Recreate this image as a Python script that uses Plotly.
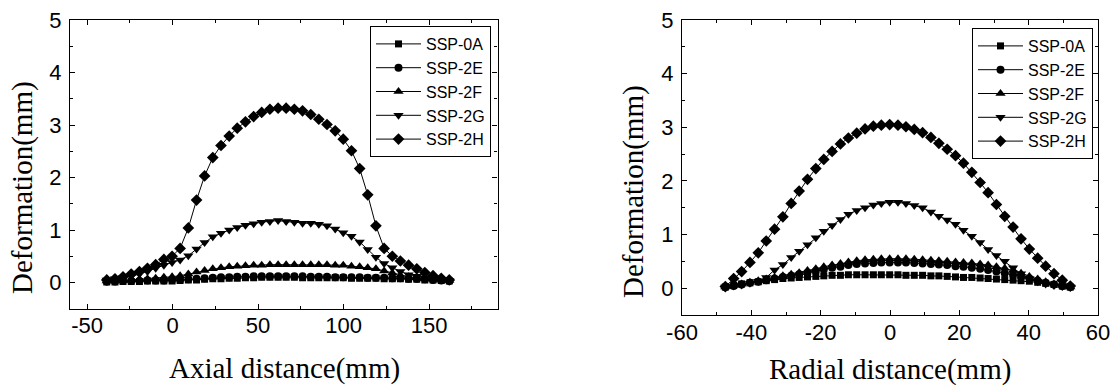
import plotly.graph_objects as go

# ---------------- data ----------------
series_names = ["SSP-0A", "SSP-2E", "SSP-2F", "SSP-2G", "SSP-2H"]
series_symbols = ["square", "circle", "triangle-up", "triangle-down", "diamond"]
series_sizes = [7, 8, 9, 9, 9]

# tick labels
axial_tickvals = [-50, 0, 50, 100, 150]
axial_ticktext = ["-50", "0", "50", "100", "150"]
radial_tickvals = [-60, -40, -20, 0, 20, 40, 60]
radial_ticktext = ["-60", "-40", "-20", "0", "20", "40", "60"]
defo_tickvals = [0, 1, 2, 3, 4, 5]
defo_ticktext = ["0", "1", "2", "3", "4", "5"]

# Axial (left panel)
x_axial = [-38.5, -33.7, -29.0, -24.2, -19.4, -14.7, -9.9, -5.1, -0.3, 4.4,
           9.2, 14.0, 18.7, 23.5, 28.3, 33.1, 37.8, 42.6, 47.4, 52.1,
           56.9, 61.7, 66.4, 71.2, 76.0, 80.8, 85.5, 90.3, 95.1, 99.8,
           104.6, 109.4, 114.1, 118.9, 123.7, 128.5, 133.2, 138.0, 142.8, 147.5,
           152.3, 157.1, 161.8]
axial_0a = [0.01, 0.01, 0.02, 0.02, 0.02, 0.03, 0.03, 0.03, 0.03, 0.04,
            0.05, 0.05, 0.06, 0.07, 0.07, 0.08, 0.08, 0.09, 0.09, 0.10,
            0.10, 0.10, 0.10, 0.10, 0.09, 0.09, 0.09, 0.09, 0.09, 0.09,
            0.08, 0.08, 0.08, 0.08, 0.07, 0.07, 0.07, 0.06, 0.06, 0.05,
            0.05, 0.04, 0.03]
axial_2e = [0.02, 0.02, 0.03, 0.03, 0.03, 0.04, 0.04, 0.04, 0.05, 0.05,
            0.06, 0.07, 0.08, 0.09, 0.10, 0.10, 0.11, 0.11, 0.12, 0.12,
            0.12, 0.12, 0.12, 0.12, 0.12, 0.11, 0.11, 0.11, 0.10, 0.10,
            0.10, 0.10, 0.09, 0.09, 0.09, 0.08, 0.08, 0.07, 0.07, 0.06,
            0.05, 0.04, 0.03]
axial_2f = [0.03, 0.03, 0.04, 0.05, 0.06, 0.07, 0.08, 0.10, 0.11, 0.13,
            0.16, 0.20, 0.23, 0.26, 0.28, 0.30, 0.31, 0.32, 0.33, 0.33,
            0.34, 0.34, 0.34, 0.34, 0.34, 0.34, 0.34, 0.34, 0.33, 0.33,
            0.31, 0.30, 0.28, 0.26, 0.22, 0.18, 0.14, 0.11, 0.09, 0.07,
            0.06, 0.05, 0.04]
axial_2g = [0.05, 0.07, 0.09, 0.12, 0.16, 0.21, 0.27, 0.33, 0.38, 0.43,
            0.51, 0.64, 0.76, 0.87, 0.94, 1.00, 1.05, 1.09, 1.12, 1.15,
            1.16, 1.18, 1.16, 1.15, 1.13, 1.13, 1.11, 1.08, 1.02, 0.95,
            0.88, 0.77, 0.63, 0.48, 0.36, 0.28, 0.21, 0.15, 0.12, 0.09,
            0.07, 0.06, 0.04]
axial_2h = [0.05, 0.07, 0.11, 0.16, 0.21, 0.27, 0.34, 0.44, 0.50, 0.65,
            1.04, 1.57, 2.03, 2.38, 2.61, 2.79, 2.94, 3.06, 3.16, 3.24,
            3.30, 3.32, 3.32, 3.30, 3.27, 3.20, 3.11, 3.01, 2.89, 2.73,
            2.51, 2.17, 1.67, 1.08, 0.65, 0.50, 0.41, 0.33, 0.26, 0.19,
            0.13, 0.08, 0.05]

# Radial (right panel)
x_radial = [-47.5, -45.1, -42.8, -40.4, -38.0, -35.7, -33.3, -30.9, -28.5, -26.2,
            -23.8, -21.4, -19.1, -16.7, -14.3, -12.0, -9.6, -7.2, -4.8, -2.5,
            -0.1, 2.3, 4.6, 7.0, 9.4, 11.8, 14.1, 16.5, 18.9, 21.2,
            23.6, 26.0, 28.3, 30.7, 33.1, 35.5, 37.8, 40.2, 42.6, 44.9,
            47.3, 49.7, 52.0]
radial_0a = [0.02, 0.05, 0.08, 0.10, 0.12, 0.14, 0.16, 0.18, 0.19, 0.20,
             0.21, 0.22, 0.23, 0.24, 0.24, 0.25, 0.25, 0.25, 0.25, 0.25,
             0.25, 0.25, 0.24, 0.24, 0.24, 0.23, 0.23, 0.22, 0.21, 0.20,
             0.20, 0.19, 0.18, 0.17, 0.16, 0.15, 0.14, 0.13, 0.11, 0.09,
             0.07, 0.04, 0.02]
radial_2e = [0.02, 0.04, 0.07, 0.10, 0.12, 0.15, 0.18, 0.21, 0.23, 0.26,
             0.29, 0.32, 0.35, 0.38, 0.40, 0.43, 0.45, 0.46, 0.47, 0.48,
             0.48, 0.48, 0.48, 0.47, 0.46, 0.45, 0.44, 0.43, 0.41, 0.40,
             0.38, 0.36, 0.34, 0.31, 0.28, 0.25, 0.21, 0.18, 0.14, 0.10,
             0.07, 0.04, 0.02]
radial_2f = [0.02, 0.05, 0.08, 0.11, 0.14, 0.17, 0.20, 0.23, 0.26, 0.29,
             0.33, 0.36, 0.40, 0.43, 0.46, 0.49, 0.51, 0.53, 0.54, 0.55,
             0.55, 0.55, 0.55, 0.54, 0.53, 0.52, 0.51, 0.50, 0.49, 0.48,
             0.47, 0.45, 0.43, 0.40, 0.37, 0.33, 0.28, 0.22, 0.17, 0.12,
             0.08, 0.05, 0.02]
radial_2g = [0.02, 0.04, 0.06, 0.09, 0.13, 0.20, 0.34, 0.44, 0.57, 0.69,
             0.81, 0.94, 1.06, 1.17, 1.28, 1.38, 1.45, 1.50, 1.55, 1.58,
             1.60, 1.60, 1.58, 1.54, 1.50, 1.42, 1.34, 1.27, 1.19, 1.08,
             0.97, 0.85, 0.72, 0.61, 0.50, 0.38, 0.27, 0.18, 0.12, 0.08,
             0.05, 0.03, 0.02]
radial_2h = [0.03, 0.18, 0.31, 0.48, 0.66, 0.88, 1.10, 1.33, 1.58, 1.81,
             2.03, 2.23, 2.40, 2.55, 2.69, 2.80, 2.89, 2.97, 3.02, 3.04,
             3.05, 3.04, 3.01, 2.96, 2.90, 2.81, 2.70, 2.59, 2.47, 2.33,
             2.16, 1.97, 1.78, 1.56, 1.34, 1.14, 0.92, 0.73, 0.56, 0.41,
             0.27, 0.15, 0.04]

axial_series = [axial_0a, axial_2e, axial_2f, axial_2g, axial_2h]
radial_series = [radial_0a, radial_2e, radial_2f, radial_2g, radial_2h]

# ---------------- layout helpers ----------------
W, H = 1114, 385
def fx(p):
    return p / W
def fy(p):
    return 1 - p / H

SANS = "Liberation Sans, Arial, sans-serif"
SERIF = "Liberation Serif, Times New Roman, serif"

fig = go.Figure()

for name, sym, sz, ys in zip(series_names, series_symbols, series_sizes, axial_series):
    fig.add_trace(go.Scatter(
        x=x_axial, y=ys, mode="lines+markers", name=name,
        line=dict(color="black", width=1),
        marker=dict(symbol=sym, size=sz, color="black"),
        xaxis="x", yaxis="y", legend="legend"))

for name, sym, sz, ys in zip(series_names, series_symbols, series_sizes, radial_series):
    fig.add_trace(go.Scatter(
        x=x_radial, y=ys, mode="lines+markers", name=name,
        line=dict(color="black", width=1),
        marker=dict(symbol=sym, size=sz, color="black"),
        xaxis="x2", yaxis="y2", legend="legend2"))

def axis_style(**kw):
    d = dict(showline=True, linecolor="black", linewidth=1.3, mirror="ticks",
             ticks="inside", ticklen=5, tickwidth=1, tickcolor="black",
             showgrid=False, zeroline=False, automargin=False,
             tickmode="array",
             tickfont=dict(family=SANS, size=22, color="black"))
    d.update(kw)
    return d

def minor(dt):
    return dict(ticks="inside", ticklen=3, tickcolor="black", tick0=0, dtick=dt)

fig.update_layout(
    width=W, height=H, autosize=False,
    margin=dict(l=0, r=0, t=0, b=0, pad=0),
    paper_bgcolor="white", plot_bgcolor="white",
    xaxis=axis_style(domain=[fx(70), fx(497.5)], range=[-60, 190],
                     tickvals=axial_tickvals, ticktext=axial_ticktext,
                     minor=minor(25), anchor="y", ticklabelstandoff=-3),
    yaxis=axis_style(domain=[fy(308.75), fy(20)], range=[-0.5, 5],
                     tickvals=defo_tickvals, ticktext=defo_ticktext,
                     minor=minor(0.5), anchor="x", ticklabelstandoff=3),
    xaxis2=axis_style(domain=[fx(682), fx(1098)], range=[-60, 60],
                      tickvals=radial_tickvals, ticktext=radial_ticktext,
                      minor=minor(10), anchor="y2", ticklabelstandoff=-3),
    yaxis2=axis_style(domain=[fy(315), fy(20)], range=[-0.5, 5],
                      tickvals=defo_tickvals, ticktext=defo_ticktext,
                      minor=minor(0.5), anchor="x2", ticklabelstandoff=3),
    legend=dict(x=fx(491), y=fy(26), xanchor="right", yanchor="top",
                bgcolor="white", bordercolor="black", borderwidth=1,
                font=dict(family=SANS, size=16, color="black"),
                itemwidth=45, tracegroupgap=0),
    legend2=dict(x=fx(1093), y=fy(28), xanchor="right", yanchor="top",
                 bgcolor="white", bordercolor="black", borderwidth=1,
                 font=dict(family=SANS, size=16, color="black"),
                 itemwidth=45, tracegroupgap=0),
    showlegend=True,
)

title_font = dict(family=SERIF, size=29, color="black")
fig.add_annotation(text="Axial distance(mm)", x=fx(284), y=fy(368),
                   xref="paper", yref="paper", showarrow=False,
                   font=title_font, xanchor="center", yanchor="middle")
fig.add_annotation(text="Radial distance(mm)", x=fx(890), y=fy(369),
                   xref="paper", yref="paper", showarrow=False,
                   font=title_font, xanchor="center", yanchor="middle")
fig.add_annotation(text="Deformation(mm)", x=fx(23), y=fy(188),
                   xref="paper", yref="paper", showarrow=False, textangle=-90,
                   font=title_font, xanchor="center", yanchor="middle")
fig.add_annotation(text="Deformation(mm)", x=fx(634), y=fy(192),
                   xref="paper", yref="paper", showarrow=False, textangle=-90,
                   font=title_font, xanchor="center", yanchor="middle")

fig.write_html(
    "out.html",
    config={"displayModeBar": False},
    post_script="document.body.style.margin='0';document.body.style.overflow='hidden';",
)
